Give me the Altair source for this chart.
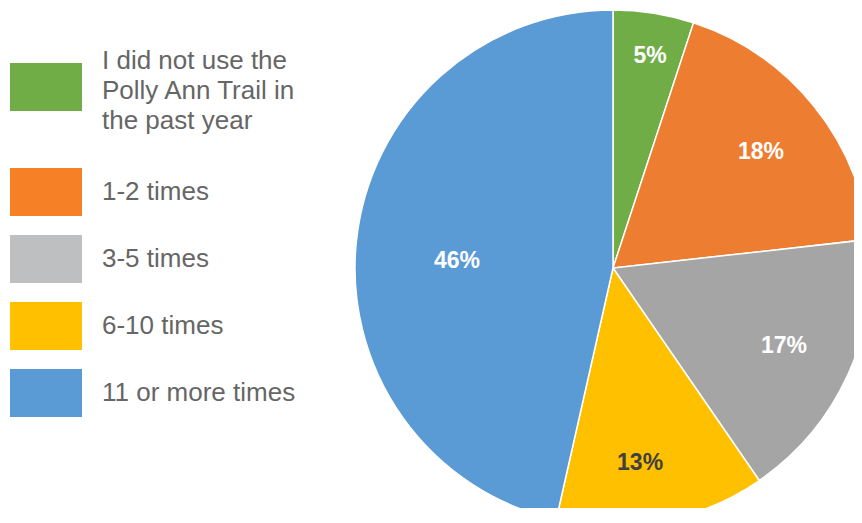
import math
import altair as alt
import pandas as pd

# ---- data ----
categories = [
    "I did not use the Polly Ann Trail in the past year",
    "1-2 times",
    "3-5 times",
    "6-10 times",
    "11 or more times",
]
legend_lines = [
    ["I did not use the", "Polly Ann Trail in", "the past year"],
    ["1-2 times"],
    ["3-5 times"],
    ["6-10 times"],
    ["11 or more times"],
]
values = [5, 18, 17, 13, 46]

# ---- styles ----
pie_colors = ["#70AD47", "#ED7D31", "#A5A5A5", "#FFC000", "#5B9BD5"]
legend_colors = ["#70AD47", "#F58025", "#BEBFC1", "#FFC000", "#5B9BD5"]
label_colors = ["white", "white", "white", "#404040", "white"]
label_radius = [216, 188, 188, 196, 157]
label_dx = [3, 2, 0, -10, 0]
label_dy = [1, 3, 0, 3, 10]

df = pd.DataFrame({"category": categories, "value": values, "order": list(range(len(categories)))})

CX, CY, R = 605, 260, 258
FONT = "Liberation Sans"

# multi-line legend labels
parts = []
for cat, lines in zip(categories, legend_lines):
    if len(lines) > 1:
        arr = "[" + ",".join("'" + l + "'" for l in lines) + "]"
        parts.append(f"datum.label == '{cat}' ? {arr} : ")
label_expr = "".join(parts) + "datum.label"

rect_path = "M-1.5,-1H1.5V1H-1.5Z"
rect_path_low = "M-1.5,0.0833H1.5V2.0833H-1.5Z"  # symbol beside the middle of a 3-line label


def make_legend(vals, y, path):
    return alt.Legend(
        values=vals,
        title=None,
        orient="none",
        legendX=2,
        legendY=y,
        padding=0,
        symbolType=path,
        symbolSize=2304,
        symbolStrokeWidth=0,
        symbolOpacity=1,
        symbolOffset=12,
        labelOffset=32,
        labelFont=FONT,
        labelFontSize=26,
        labelColor="#666666",
        labelLimit=400,
        rowPadding=19,
        labelExpr=label_expr,
    )


base = alt.Chart(df)

pie = base.mark_arc(radius=R, stroke="white", strokeWidth=1.5).encode(
    x=alt.value(CX),
    y=alt.value(CY),
    theta=alt.Theta("value:Q", stack=True),
    order=alt.Order("order:Q"),
    color=alt.Color(
        "category:N",
        sort=categories,
        scale=alt.Scale(domain=categories, range=pie_colors),
        legend=make_legend(categories[:1], 29, rect_path_low),
    ),
)

legend_layer = base.mark_arc(radius=0).encode(
    x=alt.value(CX),
    y=alt.value(CY),
    theta=alt.Theta("value:Q", stack=True),
    order=alt.Order("order:Q"),
    color=alt.Color(
        "category:N",
        sort=categories,
        scale=alt.Scale(domain=categories, range=legend_colors),
        legend=make_legend(categories[1:], 160, rect_path),
    ),
)

calc = (
    base.transform_window(cum="sum(value)", sort=[alt.SortField("order")], frame=[None, 0])
    .transform_joinaggregate(total="sum(value)")
    .transform_calculate(
        mid="(datum.cum - datum.value / 2) / datum.total",
        lab="datum.value + '%'",
    )
)

texts = []
for i, cat in enumerate(categories):
    texts.append(
        calc.transform_filter(alt.datum.category == cat)
        .mark_text(
            radius=label_radius[i],
            dx=label_dx[i],
            dy=label_dy[i],
            font=FONT,
            fontSize=23,
            fontWeight="bold",
            color=label_colors[i],
            align="center",
            baseline="middle",
        )
        .encode(
            x=alt.value(CX),
            y=alt.value(CY),
            theta=alt.Theta("mid:Q", stack=False, scale=alt.Scale(domain=[0, 1], range=[0, 2 * math.pi])),
            text="lab:N",
        )
    )

chart = (
    alt.layer(pie, legend_layer, *texts)
    .resolve_scale(color="independent", theta="independent")
    .properties(width=846, height=500, padding=0, autosize=alt.AutoSizeParams(type="none"))
    .configure(
        style={"guide-label": {"lineHeight": 30}},
        view=alt.ViewConfig(strokeWidth=0, stroke="transparent"),
    )
)

chart.save("out.html", embed_options={"renderer": "svg", "actions": False})
